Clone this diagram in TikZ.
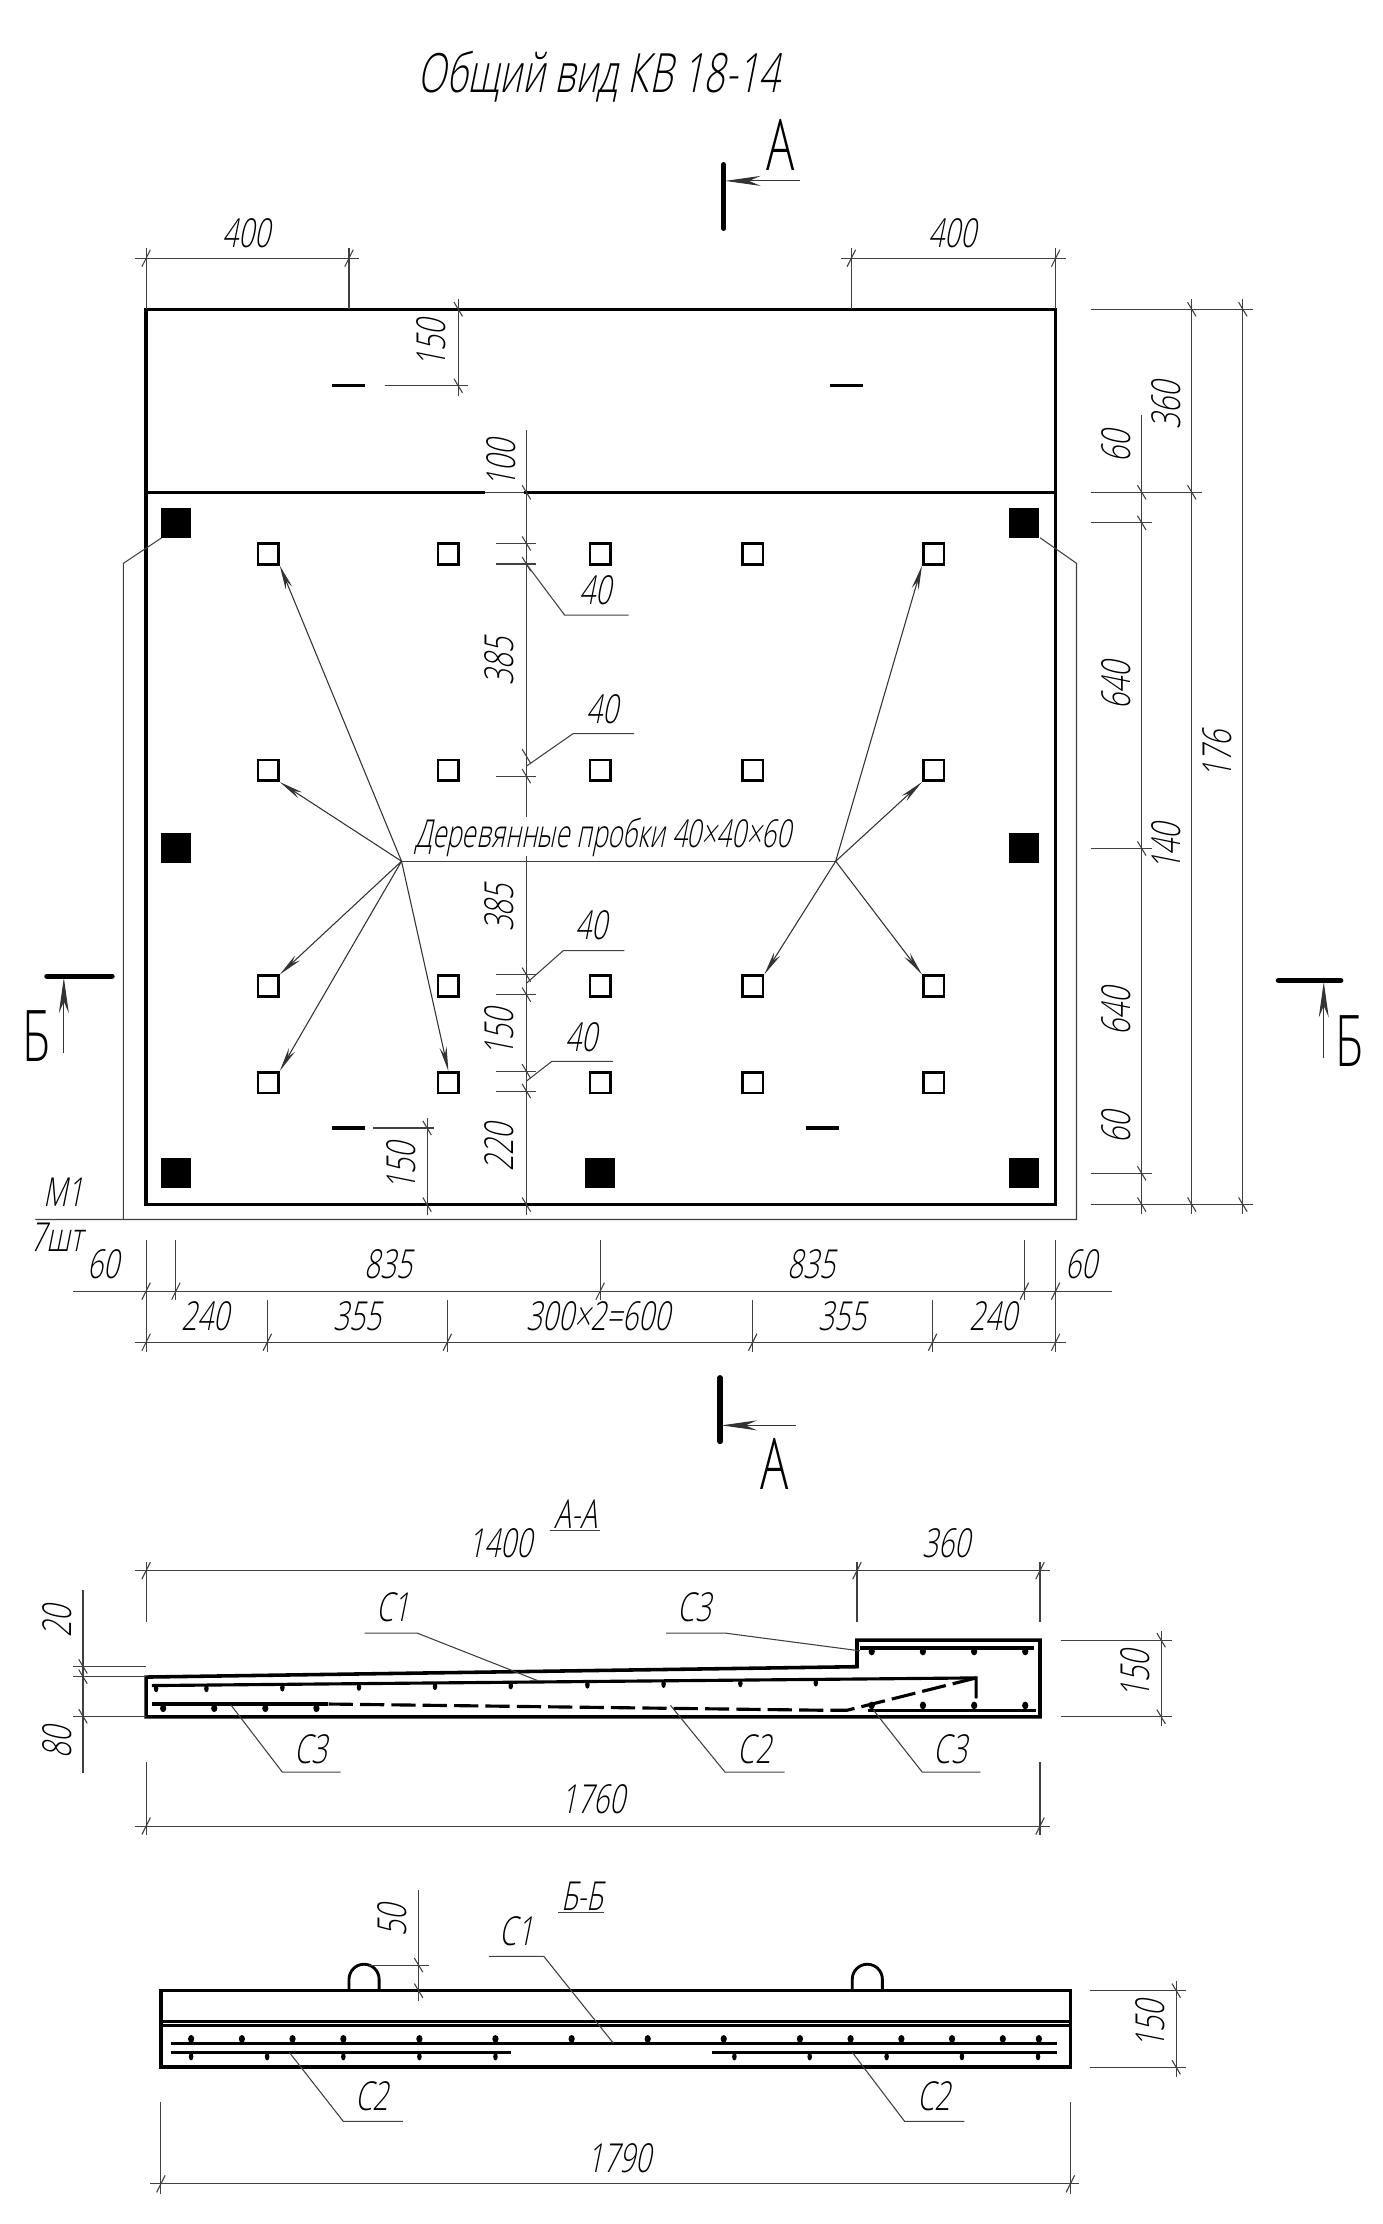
\documentclass[tikz,border=0pt]{standalone}
\usepackage{fontspec}
\usetikzlibrary{arrows.meta}
\newfontfamily\gost[FakeStretch=0.7,FakeSlant=0.2]{Open Sans Light}
\newfontfamily\gostn[FakeStretch=0.675,FakeSlant=0.2]{Open Sans Light}
\newfontfamily\gostt[FakeStretch=0.69,FakeSlant=0.2]{Open Sans Light}
\newfontfamily\gostup[FakeStretch=0.66]{Open Sans Light}
\tikzset{
  thinl/.style={line width=0.75pt,black!75},
  body/.style={line width=2.5pt,black},
  rebar/.style={line width=2.2pt,black},
  txt/.style={inner sep=0pt,font=\gost\fontsize{28}{28}\selectfont},
  smallsq/.style={draw,line width=1.8pt,minimum size=14.5pt,inner sep=0pt,fill=white},
  blacksq/.style={fill=black,minimum size=21pt,inner sep=0pt},
  lead/.style={line width=0.75pt,black!80,-{Stealth[length=17pt,width=5pt]}},
  sect/.style={line width=0.75pt,black!80,-{Stealth[length=25pt,width=7pt]}},
  secline/.style={line width=3.6pt,line cap=round},
  seclet/.style={inner sep=0pt,font=\gostup\fontsize{50}{50}\selectfont}
}
\newcommand\lab[4][]{\node[txt,#1] (#2) at (#3) {#4};}
\newcommand\hticks[1]{\foreach \p/\q in {#1}{\draw[thinl] (\p-3,\q+6) -- (\p+3,\q-6);}}
\newcommand\vticks[1]{\foreach \p/\q in {#1}{\draw[thinl] (\p-3,\q-5) -- (\p+3,\q+5);}}
\newcommand\hl[3]{\draw[thinl] (#1,#3) -- (#2,#3);}
\newcommand\vl[3]{\draw[thinl] (#1,#2) -- (#1,#3);}
\newcommand\dotsat[2]{\foreach \p/\q in {#2}{\fill (\p,\q) ellipse [x radius=#1,y radius=2.7];}}
\begin{document}
\begin{tikzpicture}[x=0.9952pt,y=-0.9952pt]
\useasboundingbox (0,0) rectangle (974.7,1567.5);
\fill[white] (0,0) rectangle (974.7,1567.5);
% title
\node[inner sep=0pt,font=\gostt\fontsize{38}{38}\selectfont] (title) at (422,54) {Общий вид КВ 18-14};
% section A top
\draw[secline] (510,116) -- (510,161);
\coordinate (atail) at (564,127.5); \coordinate (atip) at (511,127.5);
\draw[sect] (atail) -- (atip);
\node[seclet] (a1) at (550,102) {А};
% plan outline
\draw[body] (103,218) rectangle (744,849);
\draw[body] (103,347) -- (342,347) (369,347) -- (744,347);
\hl{342}{369}{347}
% outer M1
\draw[thinl] (114,379) -- (87,397) -- (87,859.5) -- (25,859.5) (87,859.5) -- (758.7,859.5) -- (758.7,397) -- (733,379);
% dashes
\foreach \a/\b/\c in {234/257/272,585/608/272,234/257/795,568/591/795}{\draw[line width=2.2pt] (\a,\c) -- (\b,\c);}
% top dims
\hl{95}{253}{182} \hl{593}{751}{182}
\vl{103}{175}{218} \vl{246}{175}{218} \vl{600}{175}{218} \vl{744}{175}{218}
\hticks{103/182,246/182,600/182,744/182}
\lab{t400a}{174,164.5}{400} \lab{t400b}{671.5,164.5}{400}
% 150 top
\vl{323}{211}{279} \hl{271}{330}{272} \vticks{323/218,323/272}
\lab[rotate=90]{t150a}{304,242}{150}
% long centre dim
\vl{371}{303}{576} \vl{371}{603}{856}
\vticks{371/347,371/383,371/397.5,371/533,371/547,371/687,371/701,371/755,371/769,371/849}
\foreach \q in {383,397.5,547,687,701,755,769}{\hl{349.5}{378}{\q}}
\lab[rotate=90]{t100}{353,327}{100}
\lab[rotate=90]{t385a}{352,466}{385}
\lab[rotate=90]{t385b}{352,640}{385}
\lab[rotate=90]{t150b}{352,728}{150}
\lab[rotate=90]{t220}{352,809}{220}
% 40 leaders
\draw[thinl] (371,397.5) -- (398,433.6) -- (443,433.6);
\draw[thinl] (371,540) -- (404,517) -- (447,517);
\draw[thinl] (371,693) -- (397,670) -- (440,670);
\draw[thinl] (371,762) -- (389,748) -- (432,748);
\lab{t40a}{420,416}{40} \lab{t40b}{424.5,500}{40} \lab{t40c}{417,652}{40} \lab{t40d}{410,731}{40}
% 150 lower
\vl{301}{788}{856} \hl{263}{306}{795} \vticks{301/795,301/849}
\lab[rotate=90]{t150c}{282.5,822}{150}
% black squares
\node[blacksq] (b1) at (124,368.5) {};
\node[blacksq] (b2) at (722,368.5) {};
\node[blacksq] (b3) at (124,598) {};
\node[blacksq] (b4) at (722,598) {};
\node[blacksq] (b5) at (124,827) {};
\node[blacksq] (b6) at (423,827) {};
\node[blacksq] (b7) at (722,827) {};
% small squares
\foreach \xx [count=\i] in {189,316,423,530.5,658}{
  \foreach \yy [count=\j] in {390.5,543,695,763}{
    \node[smallsq] (s\j\i) at (\xx,\yy) {};
  }}
% wooden plugs
\coordinate (fl) at (283,607); \coordinate (fr) at (589,607);
\draw[thinl] (fl) -- (fr);
\node[txt,font=\gostn\fontsize{27}{27}\selectfont] (plug) at (425,590) {Деревянные пробки 40×40×60};
\draw[lead] (fl) -- (s11.south east);
\draw[lead] (fl) -- (s21.south east);
\draw[lead] (fl) -- (s31.north east);
\draw[lead] (fl) -- (s41.north east);
\draw[lead] (fl) -- (s42.north);
\draw[lead] (fr) -- (s15.south west);
\draw[lead] (fr) -- (s25.south west);
\draw[lead] (fr) -- (s34.north east);
\draw[lead] (fr) -- (s35.north west);
% right dims
\hl{769}{883}{218} \hl{769}{847}{347} \hl{769}{811.6}{368.5} \hl{769}{811.6}{598} \hl{769}{811.6}{827} \hl{769}{883}{849}
\vl{804.7}{292.6}{855.4} \vl{840}{211}{855.4} \vl{876}{211}{855.4}
\vticks{804.7/347,804.7/368.5,804.7/598,804.7/827,804.7/849,840/218,840/347,840/849,876/218,876/849}
\lab[rotate=90]{t360r}{822,286}{360}
\lab[rotate=90]{t60r}{787,315}{60}
\lab[rotate=90]{t640a}{787,483}{640}
\lab[rotate=90]{t140}{822,597}{140}
\lab[rotate=90]{t640b}{787,713}{640}
\lab[rotate=90]{t60s}{787,795}{60}
\lab[rotate=90]{t176}{858,532}{176}
% bottom dims
\hl{51.6}{783.6}{910} \hl{95}{751}{946}
\foreach \xx in {103,124,423,722,744}{\vl{\xx}{874}{916}}
\foreach \xx in {103,188.4,315.3,530.5,657.3,744}{\vl{\xx}{916}{953}}
\hticks{103/910,124/910,423/910,722/910,744/910,103/946,188.4/946,315.3/946,530.5/946,657.3/946,744/946}
\lab{t60l}{73,891}{60} \lab{t835a}{274,891}{835} \lab{t835b}{572,891}{835} \lab{t60m}{762,891}{60}
\lab{t240a}{145,928}{240} \lab{t355a}{252,928}{355} \lab{t600}{421.6,928}{300×2=600} \lab{t355b}{594,928}{355} \lab{t240b}{700,928}{240}
\lab{tm1}{45,840}{М1} \lab{t7}{40,872}{7шт}
% section A bottom
\draw[secline] (507.5,971) -- (507.5,1016);
\coordinate (btail) at (561,1004.6); \coordinate (btip) at (508.5,1004.6);
\draw[sect] (btail) -- (btip);
\node[seclet] (a2) at (546,1032) {А};
% section B left / right
\draw[secline] (33,688) -- (79,688);
\coordinate (ltail) at (45,742); \coordinate (ltip) at (45,689);
\draw[sect] (ltail) -- (ltip);
\node[seclet] (bl) at (26,730) {Б};
\draw[secline] (901,691) -- (945,691);
\coordinate (rtail) at (933,746); \coordinate (rtip) at (933,692);
\draw[sect] (rtail) -- (rtip);
\node[seclet] (br) at (951,734) {Б};
% ----- section A-A
\lab{taa}{406,1067}{А-А}
\hl{387.4}{423}{1078.6}
\hl{95}{740}{1107}
\vl{103}{1101}{1143} \vl{604}{1101}{1143} \vl{733}{1101}{1143}
\hticks{103/1107,604/1107,733/1107}
\lab{t1400}{353,1088}{1400} \lab{t360a}{667,1088}{360}
\draw[body,line join=miter] (103,1182) -- (604,1174.7) -- (604,1156) -- (733,1156) -- (733,1210) -- (103,1210) -- cycle;
\draw[rebar] (107,1188) -- (688,1182.6) -- (688,1197);
\draw[rebar,dash pattern=on 17pt off 5pt] (688,1182.6) -- (597,1205.4) -- (581,1205.4) -- (231,1201);
\draw[rebar] (107,1201) -- (231,1201);
\draw[rebar] (612,1205.4) -- (730,1205.4);
\draw[rebar] (606,1161.5) -- (729,1161.5);
\dotsat{2.2}{614.4/1164,650.5/1164,686.6/1164,722.6/1164,614.4/1202,650.5/1202,686.6/1202,722.6/1202,115/1204,151/1204,187/1204,223/1204}
\dotsat{1.6}{110/1190,145.5/1190,199/1189.5,253/1189,306.6/1188.5,360/1188,414/1187.5,467.7/1187,521.8/1186.5,575/1186}
\draw[thinl] (257,1151) -- (294,1151) -- (379,1184.5);
\draw[thinl] (469.5,1151) -- (511,1151) -- (606,1163.5);
\draw[thinl] (163,1202) -- (199,1249) -- (240,1249);
\draw[thinl] (472.6,1202) -- (511,1249) -- (553,1249);
\draw[thinl] (615.7,1205.4) -- (650,1249) -- (691,1249);
\lab{tc1a}{277,1133}{С1} \lab{tc3a}{489.4,1133}{С3} \lab{tc3b}{219,1233}{С3} \lab{tc2a}{531.7,1233}{С2} \lab{tc3c}{670,1233}{С3}
\vl{58.5}{1120.5}{1249.6}
\hl{51.6}{103}{1174.5} \hl{51.6}{103}{1181.7} \hl{51.6}{103}{1209.6}
\vticks{58.5/1174.5,58.5/1181.7,58.5/1209.6}
\lab[rotate=90]{t20}{40.4,1143}{20} \lab[rotate=90]{t80}{40.4,1228}{80}
\vl{818.4}{1149.6}{1216.5} \hl{747.5}{826}{1156} \hl{747.5}{826}{1210}
\vticks{818.4/1156,818.4/1210}
\lab[rotate=90]{t150d}{800,1180}{150}
\hl{95}{740}{1287}
\vl{103}{1242}{1293} \vl{733}{1242}{1293}
\hticks{103/1287,733/1287}
\lab{t1760}{418,1268}{1760}
% ----- section B-B
\lab{tbb}{410.4,1336.4}{Б-Б}
\hl{393.6}{426}{1348}
\draw[body] (113.4,1403) rectangle (754.4,1457);
\draw[rebar] (113.4,1424.7) -- (754.4,1424.7);
\draw[rebar] (113.4,1427.8) -- (754.4,1427.8);
\draw[rebar] (120.3,1440) -- (744.8,1440);
\draw[rebar] (120.3,1446.5) -- (360,1446.5);
\draw[rebar] (501.5,1446.5) -- (744.8,1446.5);
\dotsat{2.2}{134.7/1437,170.5/1437,206.2/1437,242/1437,295.6/1437,349.2/1437,402.9/1437,456.5/1437,510.1/1437,563.8/1437,599.5/1437,635.3/1437,671/1437,706.8/1437,732.2/1437}
\dotsat{1.6}{134.7/1449.5,188.3/1449.5,242/1449.5,295.6/1449.5,349.2/1449.5,517.6/1449.5,570.7/1449.5,624.9/1449.5,678/1449.5,731.6/1449.5}
\draw[line width=2pt] (246,1403) -- (246,1395) arc[start angle=180,end angle=360,radius=10.6] -- (267.2,1403);
\draw[line width=2pt] (600.7,1403) -- (600.7,1395) arc[start angle=180,end angle=360,radius=10.6] -- (621.9,1403);
\vl{295}{1332.4}{1410.2} \hl{260.4}{302.5}{1385} \vticks{295/1385,295/1403}
\lab[rotate=90]{t50}{276.5,1353.5}{50}
\draw[thinl] (344.6,1378.8) -- (383.2,1378.8) -- (432.3,1440);
\draw[thinl] (203.9,1446.5) -- (242,1495.2) -- (284,1495.2);
\draw[thinl] (600.7,1446.5) -- (637.6,1495.2) -- (679.7,1495.2);
\lab{tc1b}{364,1361}{С1} \lab{tc2b}{262,1477.4}{С2} \lab{tc2c}{658.3,1477.4}{С2}
\vl{829}{1396}{1464} \hl{767.9}{836}{1403} \hl{767.9}{836}{1457}
\vticks{829/1403,829/1457}
\lab[rotate=90]{t150e}{811,1427}{150}
\hl{105.9}{760.4}{1539.2}
\vl{113.4}{1481.6}{1546.5} \vl{754.4}{1481.6}{1546.5}
\hticks{113.4/1539.2,754.4/1539.2}
\lab{t1790}{436.3,1521.4}{1790}
\end{tikzpicture}
\end{document}
